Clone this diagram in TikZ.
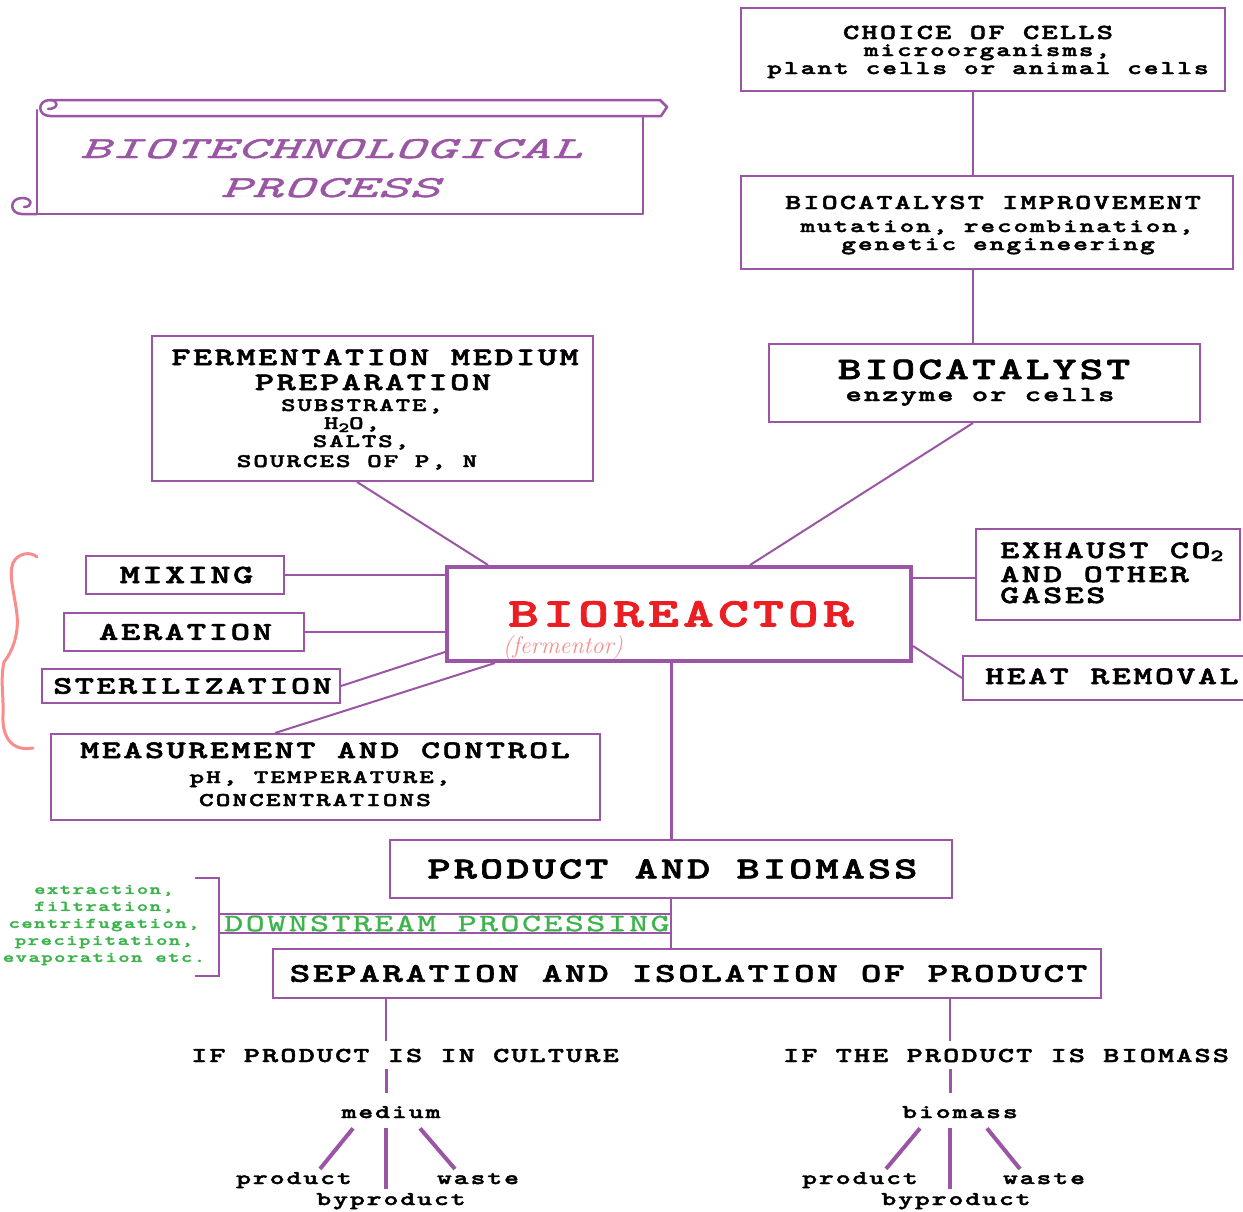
\documentclass[tikz,border=0pt]{standalone}
\usepackage{fontspec}
\usetikzlibrary{calc}
\newfontfamily\slab{lmmonolt10-bold.otf}[FakeStretch=1.45,FakeBold=2.2,LetterSpace=10]
\newfontfamily\slabreg{lmmono10-regular.otf}[FakeStretch=1.45,FakeBold=1.2,LetterSpace=10]
\newfontfamily\slabit{lmmono10-italic.otf}[FakeStretch=1.9,FakeBold=1.3,LetterSpace=3]
\newcommand\fs[1]{\fontsize{#1}{#1}\selectfont}
\definecolor{pur}{RGB}{155,85,165}
\definecolor{bred}{RGB}{235,30,35}
\definecolor{grn}{RGB}{60,180,75}
\definecolor{pnk}{RGB}{250,140,140}
\begin{document}
\begin{tikzpicture}[x=1pt,y=-1pt,
  box/.style={draw=pur,line width=2pt,inner sep=0,font=\slab},
  tx/.style={inner sep=0,font=\slab,anchor=base},
  txw/.style={inner sep=0,font=\slab,anchor=base west},
  con/.style={draw=pur,line width=2pt},
  tree/.style={draw=pur,line width=4pt},
  scroll/.style={draw=pur,line width=2.5pt,line join=round,line cap=round}
]
\useasboundingbox (0,0) rectangle (1243,1211);
\fill[white] (0,0) rectangle (1243,1211);

% title scroll
\draw[scroll] (50,100) -- (660,100) -- (667,107) -- (661,116) -- (50,116);
\draw[scroll] (50,116) .. controls (37,116) and (37,100) .. (50,100) .. controls (59,100) and (59,109) .. (48,109);
\draw[scroll] (37,110) -- (37,214) -- (643,214) -- (643,116);
\draw[scroll] (37,214) -- (22,214) .. controls (9,214) and (9,198) .. (22,198) .. controls (33,198) and (33,207) .. (24,207);
\node[inner sep=0,font=\slabit,text=pur,anchor=base] (title1) at (331,158) {\fs{30.6}BIOTECHNOLOGICAL};
\node[inner sep=0,font=\slabit,text=pur,anchor=base] (title2) at (330,197) {\fs{30.6}PROCESS};

% top right chain
\node[box,minimum width=484pt,minimum height=83pt] (choice) at (983,49.5) {};
\node[tx] (choiceA) at (978,39) {\fs{21.4}CHOICE OF CELLS};
\node[tx] (choiceB) at (987,56) {\fs{19.2}microorganisms,};
\node[tx] (choiceC) at (988,74) {\fs{19.4}plant cells or animal cells};

\node[box,minimum width=492pt,minimum height=93pt] (improv) at (987,222.5) {};
\node[tx] (improvA) at (993,209) {\fs{21.2}BIOCATALYST IMPROVEMENT};
\node[tx] (improvB) at (997,232) {\fs{19.2}mutation, recombination,};
\node[tx] (improvC) at (998,250) {\fs{19.4}genetic engineering};

\node[box,minimum width=431pt,minimum height=78pt] (biocat) at (984.5,383) {};
\node[tx] (biocatA) at (984,379) {\fs{31.2}BIOCATALYST};
\node[tx] (biocatB) at (980,401) {\fs{21.3}enzyme or cells};

% fermentation medium
\node[box,minimum width=441pt,minimum height=145pt] (ferm) at (372.5,408.5) {};
\node[tx] (fermA) at (375,365) {\fs{25.2}FERMENTATION MEDIUM};
\node[tx] (fermB) at (373,390) {\fs{25.2}PREPARATION};
\node[tx] (fermC) at (362,411) {\fs{19}SUBSTRATE,};
\node[tx] (fermD) at (352,429) {\fs{19}H\raisebox{-3pt}{\fs{14}2}O,};
\node[tx] (fermE) at (361,447) {\fs{19}SALTS,};
\node[tx] (fermF) at (357,467) {\fs{19.2}SOURCES OF P, N};

% bioreactor
\node[box,line width=4pt,minimum width=464pt,minimum height=94pt,text=bred] (bio) at (679,614) {\hspace*{4pt}\fs{40.6}BIOREACTOR};
\node[inner sep=0,font=\itshape,text=pnk] (fermentor) at (563,648) {\fs{24}(fermentor)};

% left inputs
\node[box,minimum width=198pt,minimum height=38pt] (mix) at (185,575) {\hspace*{3pt}\fs{26.3}MIXING};
\node[box,minimum width=240pt,minimum height=38pt] (aer) at (184,632) {\hspace*{3pt}\fs{25.5}AERATION};
\node[box,minimum width=298pt,minimum height=34pt] (ster) at (191,686) {\hspace*{3pt}\fs{25.1}STERILIZATION};
\node[box,minimum width=549pt,minimum height=86pt] (meas) at (325.5,777) {};
\node[tx] (measA) at (325,758) {\fs{25.1}MEASUREMENT AND CONTROL};
\node[tx] (measB) at (320,783) {\fs{19.2}pH, TEMPERATURE,};
\node[tx] (measC) at (315,806) {\fs{19.4}CONCENTRATIONS};

% right outputs
\node[box,minimum width=264pt,minimum height=91pt] (exh) at (1108,574.5) {};
\node[txw] (exhA) at (1000,558) {\fs{25}EXHAUST CO\raisebox{-3pt}{\fs{17}2}};
\node[txw] (exhB) at (1000,582) {\fs{25}AND OTHER};
\node[txw] (exhC) at (1000,603) {\fs{25}GASES};
\node[box,minimum width=337pt,minimum height=44pt] (heat) at (1131.5,678) {};
\node[txw] (heatA) at (985,684) {\fs{25}HEAT REMOVAL};

% product chain
\node[box,minimum width=562pt,minimum height=58pt] (prod) at (671,869) {\hspace*{3pt}\fs{30.5}PRODUCT AND BIOMASS};
\node[box,minimum width=828pt,minimum height=49pt] (sep) at (687,973.5) {\hspace*{3pt}\fs{26.9}SEPARATION AND ISOLATION OF PRODUCT};

\node[inner sep=0,minimum width=453pt,minimum height=19pt,font=\slabreg,text=grn] (ds) at (445.5,923.5) {\hspace*{3pt}\fs{24.9}DOWNSTREAM PROCESSING};
\node[inner sep=0,align=center,text=grn,font={\slab\fontsize{14.9}{17}\selectfont}] (methods) at (104,925)
  {extraction,\\filtration,\\centrifugation,\\precipitation,\\evaporation etc.};

% connectors
\draw[con] ([xshift=-10pt]choice.south) -- ([xshift=-14pt]improv.north);
\draw[con] ([xshift=-14pt]improv.south) -- ([xshift=-11.5pt]biocat.north);
\draw[con] ([xshift=-11.5pt]biocat.south) -- ([xshift=71pt]bio.north);
\draw[con] ([xshift=-15.5pt]ferm.south) -- ([xshift=-191pt]bio.north);
\draw[con] (mix.east) -- (mix.east -| bio.west);
\draw[con] (aer.east) -- (aer.east -| bio.west);
\draw[con] (ster.east) -- ([yshift=-38pt]bio.west);
\draw[con] ([xshift=-50.5pt]meas.north) -- ([xshift=-184pt]bio.south);
\draw[con] ([yshift=-3pt]exh.west) -- ([yshift=-3pt]exh.west -| bio.east);
\draw[con] ([yshift=-32pt]bio.east) -- (heat.west);
\draw[con,line width=3pt] (bio.south -| prod.north) -- (prod.north);
\draw[con,line width=2.5pt] (prod.south) -- (prod.south |- sep.north);
\draw[pur,line width=1.5pt] (ds.north west) -- (ds.north east) (ds.south west) -- (ds.south east);
\draw[con] ([xshift=-24pt,yshift=45.5pt]ds.west) -- ([yshift=45.5pt]ds.west) -- ([yshift=-52.5pt]ds.west) -- ([xshift=-24pt,yshift=-52.5pt]ds.west);

% bottom trees
\coordinate (L) at (386,0);
\coordinate (R) at (950,0);
\node[tx] (ifc) at (405,1062) {\fs{21.2}IF PRODUCT IS IN CULTURE};
\node[tx] (med) at (391,1118) {\fs{19.5}medium};
\node[tx] (prodL) at (294,1184) {\fs{19.5}product};
\node[tx] (wasteL) at (478,1184) {\fs{19.5}waste};
\node[tx] (byL) at (391,1205) {\fs{19.5}byproduct};
\draw[con] (sep.south -| L) -- ([yshift=8pt]ifc.north -| L);
\draw[con,line width=3pt] ([yshift=-7pt]ifc.south -| L) -- ([yshift=13pt]med.north -| L);
\draw[tree] ([xshift=-38pt,yshift=-10pt]med.south) -- ([xshift=26pt,yshift=3pt]prodL.north);
\draw[tree] ([yshift=-10pt]med.south -| L) -- ([yshift=4pt]byL.north -| L);
\draw[tree] ([xshift=29pt,yshift=-10pt]med.south) -- ([xshift=-23pt,yshift=4pt]wasteL.north);

\node[tx] (ifb) at (1006,1062) {\fs{21.2}IF THE PRODUCT IS BIOMASS};
\node[tx] (bms) at (960,1118) {\fs{19.5}biomass};
\node[tx] (prodR) at (860,1184) {\fs{19.5}product};
\node[tx] (wasteR) at (1044,1184) {\fs{19.5}waste};
\node[tx] (byR) at (956,1205) {\fs{19.5}byproduct};
\draw[con] (sep.south -| R) -- ([yshift=8pt]ifb.north -| R);
\draw[con,line width=3pt] ([yshift=-7pt]ifb.south -| R) -- ([yshift=13pt]bms.north -| R);
\draw[tree] ([xshift=-40pt,yshift=-10pt]bms.south) -- ([xshift=26pt,yshift=3pt]prodR.north);
\draw[tree] ([yshift=-10pt]bms.south -| R) -- ([yshift=4pt]byR.north -| R);
\draw[tree] ([xshift=27pt,yshift=-10pt]bms.south) -- ([xshift=-24pt,yshift=4pt]wasteR.north);

% pink brace
\draw[pnk,line width=3pt,line cap=round] (37,557) .. controls (30,551) and (18,553) .. (13,563) .. controls (8,575) and (15,595) .. (17,615) .. controls (19,635) and (12,652) .. (4,662) .. controls (0,680) and (4,700) .. (3,715) .. controls (2,735) and (10,752) .. (33,748);
\end{tikzpicture}
\end{document}
